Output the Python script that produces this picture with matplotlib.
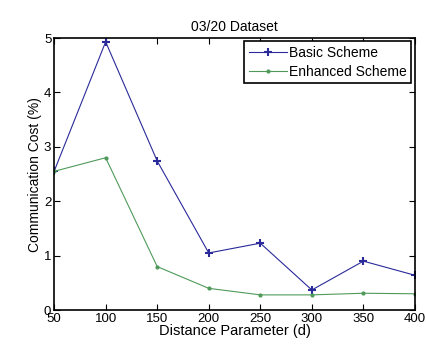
import matplotlib
matplotlib.use('Agg')
import matplotlib.pyplot as plt

distance = [50, 100, 150, 200, 250, 300, 350, 400]
basic = [2.55, 4.93, 2.74, 1.05, 1.23, 0.37, 0.90, 0.64]
enhanced = [2.55, 2.80, 0.80, 0.40, 0.28, 0.28, 0.31, 0.30]

plt.rcParams['font.family'] = ['Liberation Sans', 'DejaVu Sans']
plt.rcParams['font.size'] = 9

fig = plt.figure(figsize=(4.26, 3.52), dpi=100)
ax = fig.add_axes([0.127, 0.119, 0.847, 0.773])

ax.plot(distance, basic, color='#2a2a9a', marker='+', markersize=6,
        markeredgewidth=1.5, linewidth=0.8, label='Basic Scheme')
ax.plot(distance, enhanced, color='#4f9a5a', marker='.', markersize=4,
        linewidth=0.8, label='Enhanced Scheme')

ax.set_xlim(50, 400)
ax.set_ylim(0, 5)
ax.set_xticks(distance)
ax.set_yticks([0, 1, 2, 3, 4, 5])
ax.tick_params(direction='in', top=True, right=True, length=4, width=0.8, pad=2,
               labelsize=9.5)
for s in ax.spines.values():
    s.set_linewidth(1.2)

ax.set_title('03/20 Dataset', fontsize=10, pad=5)
ax.set_xlabel('Distance Parameter (d)', fontsize=10.5, labelpad=-1)
ax.set_ylabel('Communication Cost (%)', fontsize=10, labelpad=1)

leg = ax.legend(loc='upper right', fancybox=False, framealpha=1, edgecolor='black',
                borderaxespad=0.25, handlelength=2.8, borderpad=0.35, labelspacing=0.3,
                handletextpad=0.1, fontsize=10)
leg.get_frame().set_linewidth(1.2)

fig.savefig('out.png', dpi=100)
